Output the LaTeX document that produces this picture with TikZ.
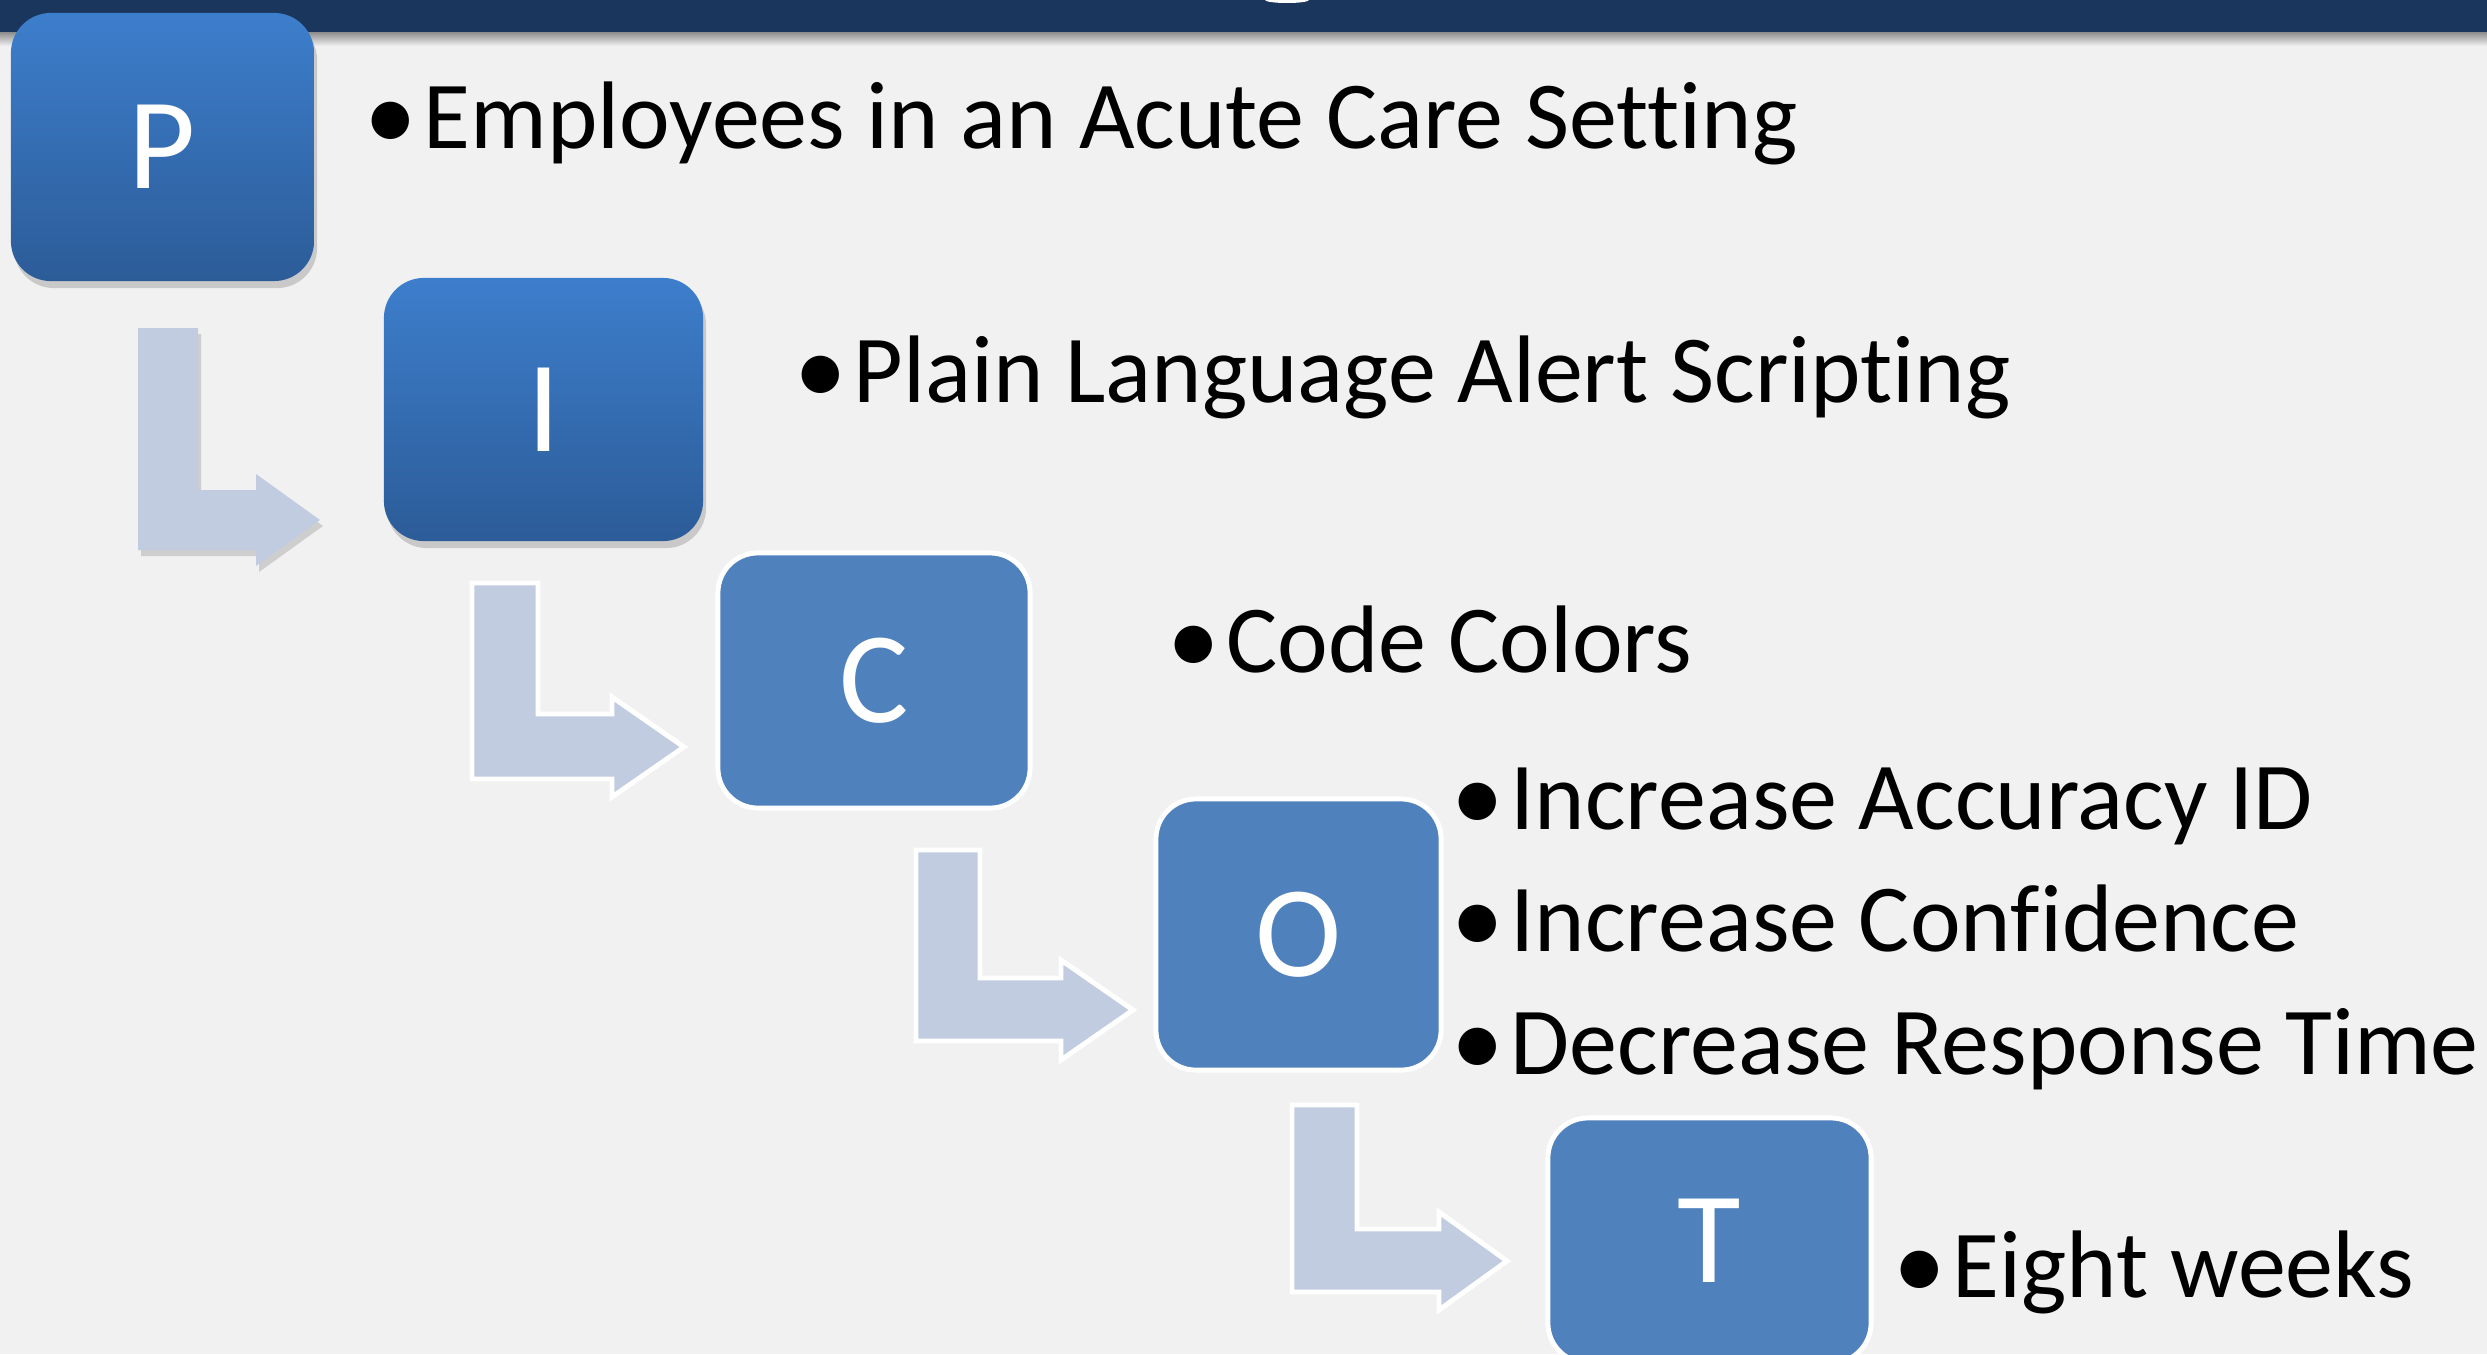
\documentclass[tikz,border=0pt]{standalone}
\usepackage{fontspec}
\setmainfont{Carlito}[Ligatures=NoCommon]
\usetikzlibrary{shadows}

\definecolor{pageBg}{HTML}{F1F1F1}
\definecolor{barNavy}{HTML}{1A365D}
\definecolor{picoTop}{HTML}{3D7ECC}
\definecolor{picoBot}{HTML}{2C5C98}
\definecolor{picoFlat}{HTML}{4F81BD}
\definecolor{arrowFill}{HTML}{C1CCE1}

\newcommand{\itm}[1]{\makebox[0.59cm][l]{\raisebox{-0.8pt}{\scalebox{1.1}{•}}}#1}

\begin{document}
\begin{tikzpicture}[x=0.01cm, y=-0.01cm,
  box/.style={rounded corners=0.4cm, inner sep=0pt, text=white,
    font=\fontsize{37}{40}\selectfont},
  boxDeep/.style={box, top color=picoTop, bottom color=picoBot,
    drop shadow={shadow xshift=0.03cm, shadow yshift=-0.07cm, opacity=0.35}},
  boxFlat/.style={box, fill=picoFlat, draw=white, line width=1.4pt},
  bendArrow/.style={fill=arrowFill},
  bendArrowShadow/.style={bendArrow,
    drop shadow={shadow xshift=0.03cm, shadow yshift=-0.06cm, opacity=0.3}},
  bendArrowEdge/.style={bendArrow, draw=white, line width=1.4pt},
  itemText/.style={anchor=base west, inner sep=0pt,
    font=\fontsize{27.3}{32}\selectfont}
]

% 画布
\useasboundingbox (0,0) rectangle (2487,1354);
\clip (0,0) rectangle (2487,1354);
\fill[pageBg] (0,0) rectangle (2487,1354);

% 顶部标题条
\shade[top color=black!45, bottom color=pageBg] (0,32) rectangle (2487,46);
\fill[barNavy] (0,0) rectangle (2487,32);
\fill[white] (1287,0) ellipse [x radius=22, y radius=3];

% 弯箭头 P -> I（带阴影）
\path[bendArrowShadow] (138,328) -- (198,328) -- (198,490) -- (256,490)
  -- (256,474) -- (320,520) -- (256,566) -- (256,550) -- (138,550) -- cycle;

% 弯箭头 I -> C, C -> O, O -> T（白边）
\path[bendArrowEdge] (472,583) -- (538,583) -- (538,714) -- (612,714)
  -- (612,697) -- (684,747) -- (612,797) -- (612,779) -- (472,779) -- cycle;
\path[bendArrowEdge] (916,850) -- (980,850) -- (980,978) -- (1061,978)
  -- (1061,960) -- (1133,1010) -- (1061,1060) -- (1061,1041) -- (916,1041) -- cycle;
\path[bendArrowEdge] (1292,1105) -- (1357,1105) -- (1357,1229) -- (1439,1229)
  -- (1439,1212) -- (1507,1261) -- (1439,1310) -- (1439,1292) -- (1292,1292) -- cycle;

% PICOT 方块
\node[boxDeep, minimum width=3.03cm, minimum height=2.68cm] (P) at (162.5,147) {P};
\node[boxDeep, minimum width=3.19cm, minimum height=2.63cm] (I) at (543.5,409.5) {I};
\node[boxFlat, minimum width=3.12cm, minimum height=2.55cm] (C) at (874,680.5) {C};
\node[boxFlat, minimum width=2.85cm, minimum height=2.71cm] (O) at (1298.5,934.5) {O};
\node[boxFlat, minimum width=3.23cm, minimum height=2.45cm] (T) at (1709.5,1240.5) {T};

% 条目文字
\node[itemText] (pText) at (364,148) {\itm{Employees in an Acute Care Setting}};
\node[itemText] (iText) at (794,402) {\itm{Plain Language Alert Scripting}};
\node[itemText] (cText) at (1167,672) {\itm{Code Colors}};
\node[itemText] (oTextA) at (1451,829) {\itm{Increase Accuracy ID}};
\node[itemText] (oTextB) at (1451,951) {\itm{Increase Confidence}};
\node[itemText] (oTextC) at (1451,1074) {\itm{Decrease Response Time}};
\node[itemText] (tText) at (1893,1297) {\itm{Eight weeks}};

\end{tikzpicture}
\end{document}
